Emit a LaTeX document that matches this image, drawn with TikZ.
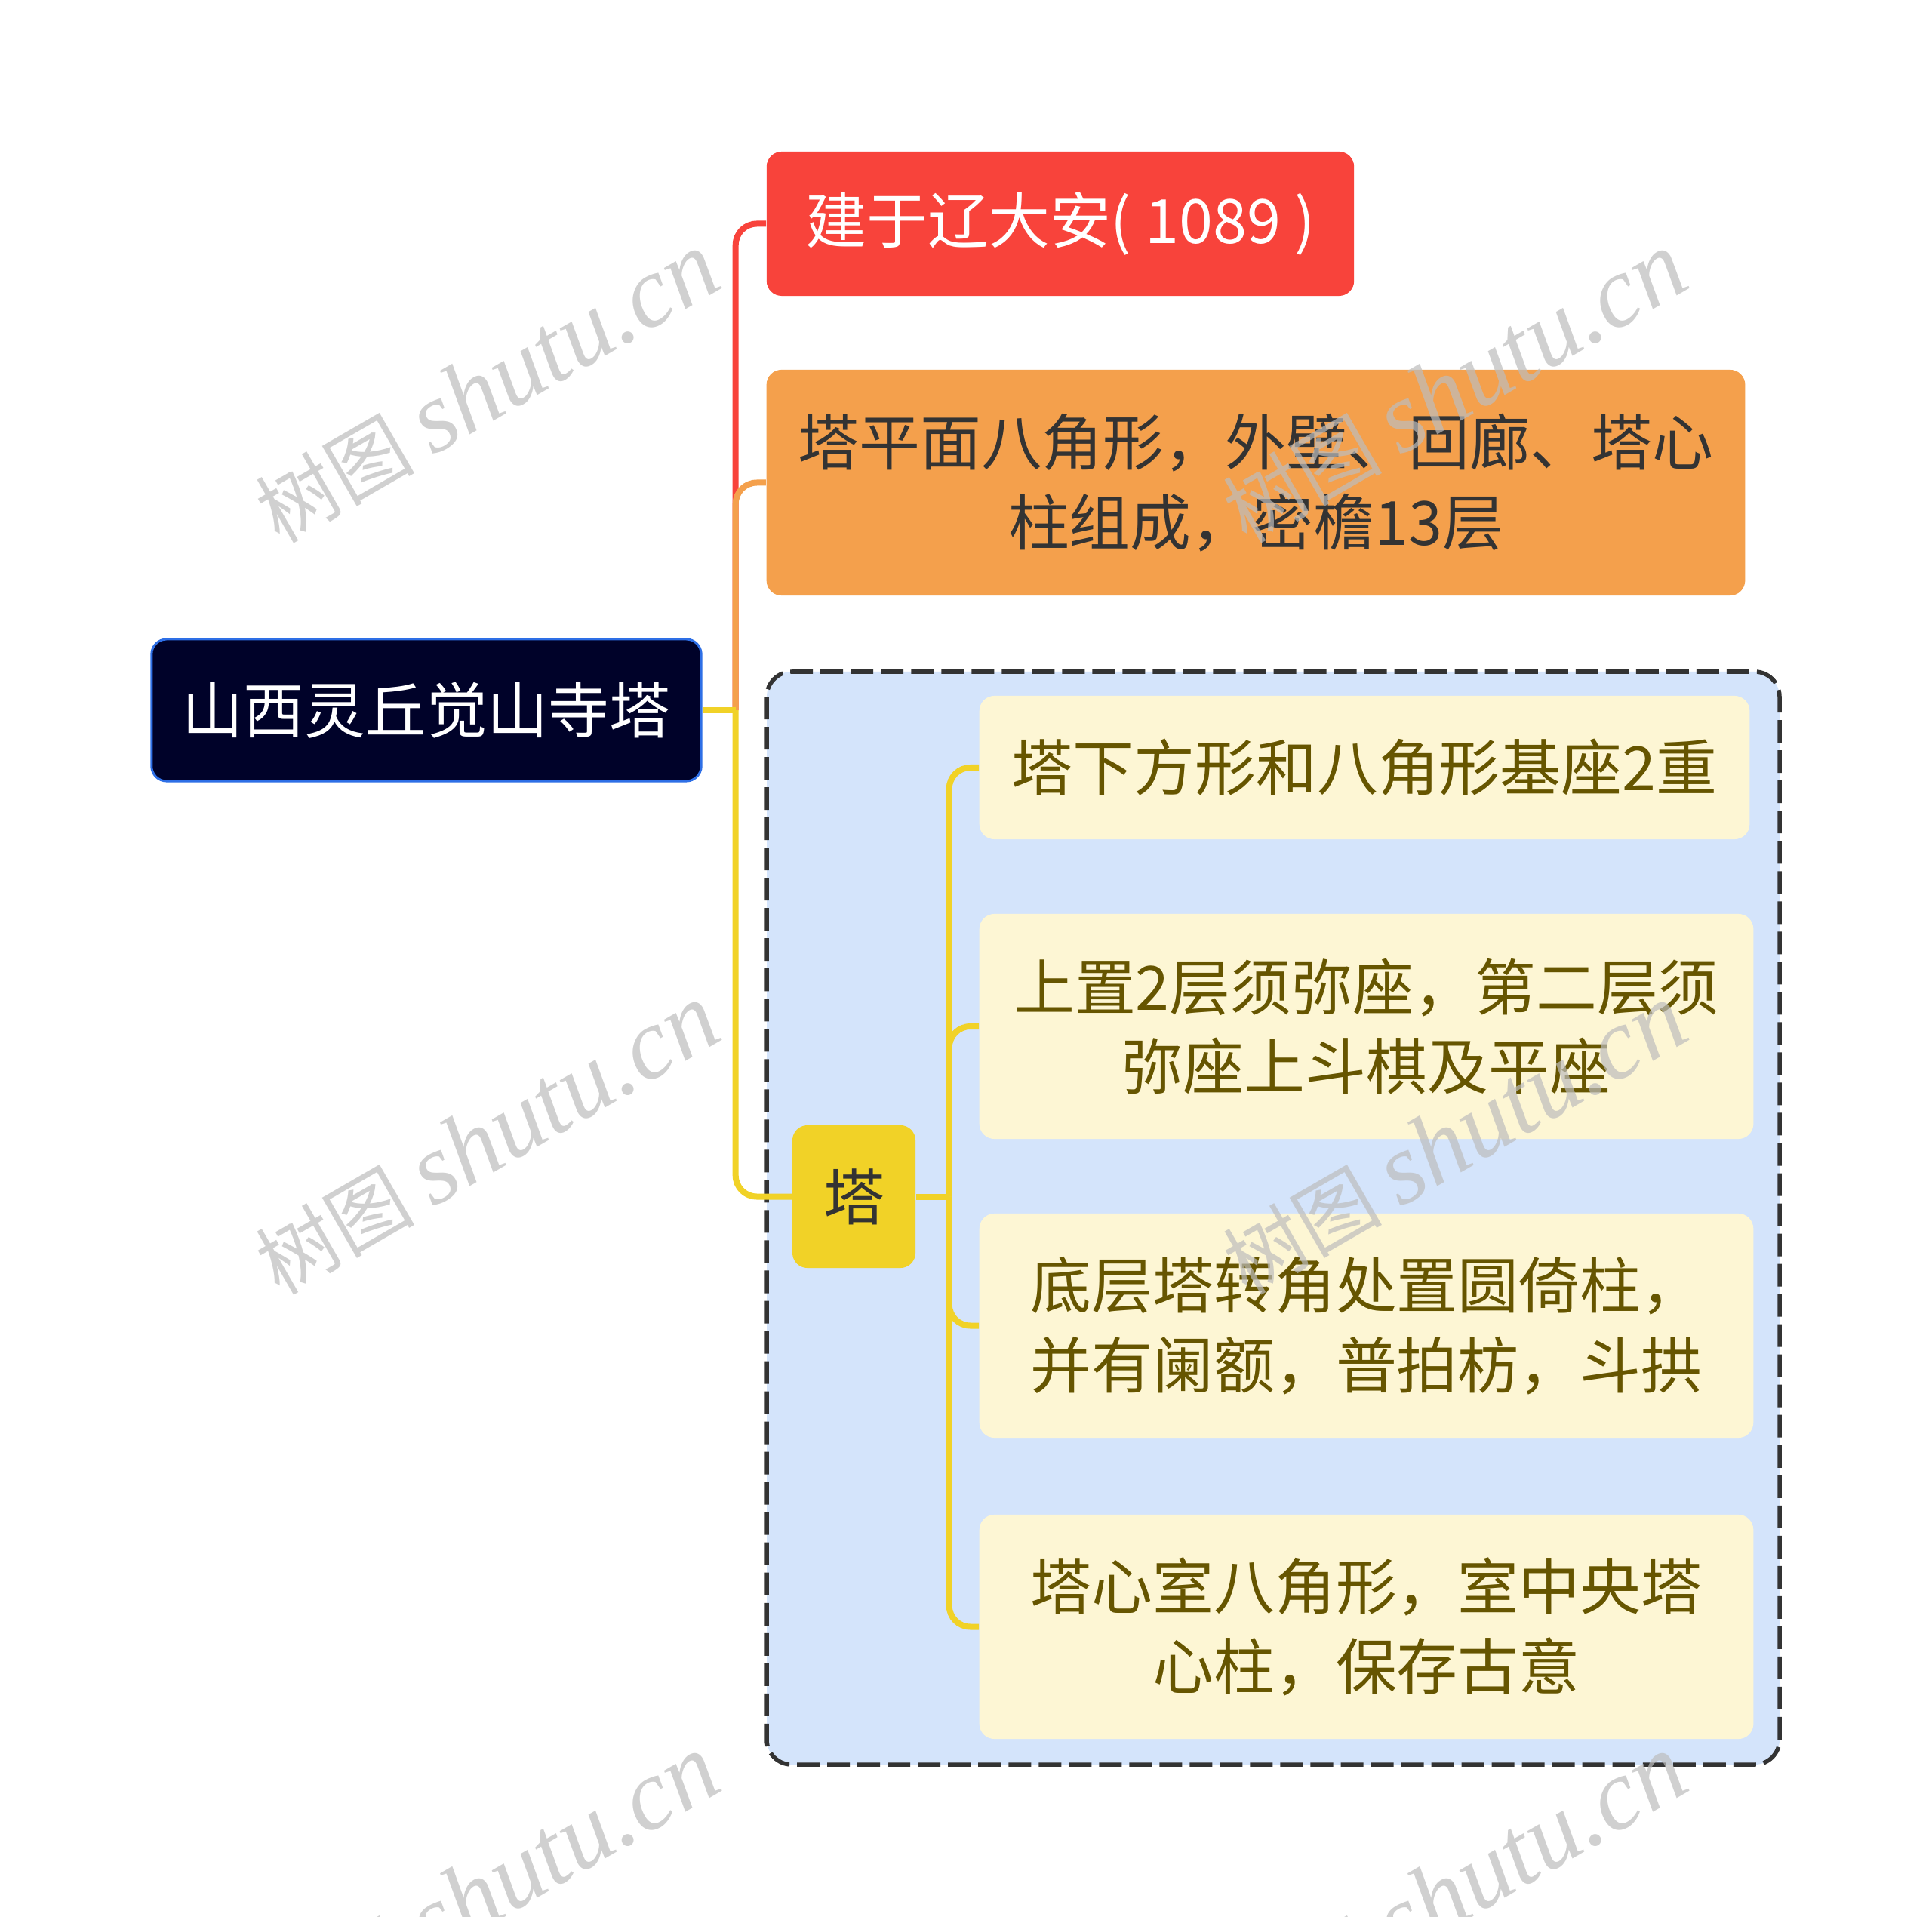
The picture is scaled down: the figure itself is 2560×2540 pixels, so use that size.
\documentclass[tikz,border=0pt]{standalone}
\usepackage{fontspec}
\setmainfont{Noto Sans CJK SC}
\newfontfamily\wmserif{Liberation Serif}
\usetikzlibrary{calc}
\definecolor{cred}{HTML}{F8433B}
\definecolor{corange}{HTML}{F4A04C}
\definecolor{cyellow}{HTML}{F1D227}
\definecolor{croot}{HTML}{000229}
\definecolor{crootb}{HTML}{2E6FE6}
\definecolor{cbox}{HTML}{D4E4FB}
\definecolor{cleaf}{HTML}{FDF6D4}
\definecolor{cleaftext}{HTML}{665500}
\definecolor{cdark}{HTML}{333333}
\definecolor{cwm}{HTML}{BDBDBD}
\tikzset{
  base/.style={inner sep=0pt, align=center, font=\fontsize{23pt}{30pt}\selectfont, rounded corners=0.2cm},
  rootbox/.style={base, fill=croot, draw=crootb, line width=0.03cm, text=white},
  redbox/.style={base, fill=cred, text=white},
  orangebox/.style={base, fill=corange, text=cdark},
  tabox/.style={base, fill=cyellow, text=cdark},
  leafbox/.style={base, fill=cleaf, text=cleaftext},
  conn/.style={line width=0.08cm, rounded corners=0.28cm},
  wm/.style={text=cwm, opacity=0.7, rotate=30, inner sep=0pt}
}
\begin{document}
\begin{tikzpicture}[x=0.01cm,y=-0.01cm]
\useasboundingbox (0,0) rectangle (2560,2540);
\fill[white] (0,0) rectangle (2560,2540);
% dashed container
\draw[fill=cbox, draw=cdark, line width=0.055cm, dash pattern=on 0.3cm off 0.1cm, rounded corners=0.33cm] (1016,890) rectangle (2358,2338);
% nodes
\node[rootbox, minimum width=7.28cm, minimum height=1.88cm] (root) at (565,941) {山西灵丘觉山寺塔};
\node[redbox, minimum width=7.78cm, minimum height=1.91cm] (red) at (1405,296.5) {建于辽大安( 1089 )};
\node[orangebox, minimum width=12.96cm, minimum height=2.99cm] (orange) at (1664,639.5) {塔平面八角形，外壁、回廊、塔心\\柱组成，密檐13层};
\node[tabox, minimum width=1.63cm, minimum height=1.89cm] (ta) at (1131.5,1585.5) {塔};
\node[leafbox, minimum width=10.20cm, minimum height=1.90cm] (l1) at (1808,1017) {塔下方形和八角形基座2重};
\node[leafbox, minimum width=10.25cm, minimum height=2.98cm] (l2) at (1810.5,1360) {上置2层须弥座，第二层须\\弥座上斗棋及平座};
\node[leafbox, minimum width=10.25cm, minimum height=2.97cm] (l3) at (1810.5,1756.5) {底层塔转角处置圆倚柱，\\并有阑额，普拍枋，斗拱};
\node[leafbox, minimum width=10.25cm, minimum height=2.97cm] (l4) at (1810.5,2155.5) {塔心室八角形，室中央塔\\心柱，保存古意};
% connectors
\coordinate (hub) at ($(root.east)+(44,0)$);
\coordinate (ihub) at ($(ta.east)+(44,0)$);
\draw[conn, cred] (hub) |- (red.west);
\draw[conn, corange] (hub) |- (orange.west);
\draw[conn, cyellow] (root.east) -- (hub);
\draw[conn, cyellow] (hub) |- (ta.west);
\draw[conn, cyellow] (ta.east) -- (ihub);
\draw[conn, cyellow] (ihub) |- (l1.west);
\draw[conn, cyellow] (ihub) |- (l2.west);
\draw[conn, cyellow] (ihub) |- (l3.west);
\draw[conn, cyellow] (ihub) |- (l4.west);
% watermarks
\foreach \i/\x/\y in {1/645/514, 2/1927/514, 3/645/1510, 4/1927/1510, 5/645/2505, 6/1927/2505}{
  \node[wm] (wm\i) at (\x,\y) {\fontsize{30pt}{30pt}\selectfont 树图 {\wmserif\itshape\fontsize{38pt}{38pt}\selectfont shutu.cn}};
}
\end{tikzpicture}
\end{document}
